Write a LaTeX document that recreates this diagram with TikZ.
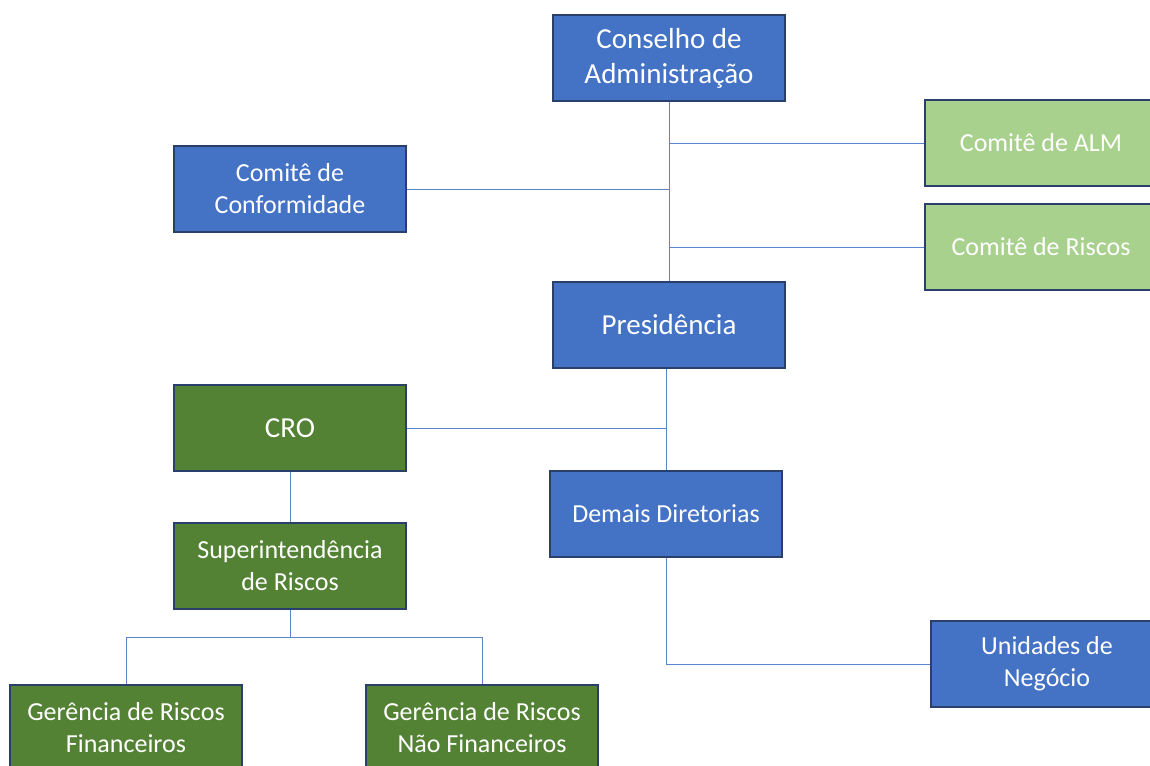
\documentclass[tikz,border=0pt]{standalone}
\usepackage{fontspec}
\setmainfont{Carlito}
\usetikzlibrary{positioning}
\definecolor{azul}{HTML}{4472C4}
\definecolor{borda}{HTML}{2B3F6B}
\definecolor{verdeclaro}{HTML}{A9D18E}
\definecolor{verdeescuro}{HTML}{548235}
\definecolor{linha}{HTML}{5B84CC}

\begin{document}
\begin{tikzpicture}[x=1pt, y=-1pt,
    caixa/.style={draw=borda, line width=1.5pt, minimum width=232pt, minimum height=86pt,
        inner sep=0pt, align=center, text=white},
    grande/.style={font=\fontsize{29}{35}\selectfont},
    pequeno/.style={font=\fontsize{26}{32}\selectfont},
    azulbox/.style={caixa, fill=azul},
    verdebox/.style={caixa, fill=verdeescuro},
    claro/.style={caixa, fill=verdeclaro},
    liga/.style={draw=linha, line width=1pt}]
    \useasboundingbox (0,0) rectangle (1150,765);
    \clip (0,0) rectangle (1150,765);
    \node[azulbox,grande] (conselho) at (669,58) {Conselho de\\Administração};
    \node[claro,pequeno] (alm) at (1041,143) {Comitê de ALM};
    \node[claro,pequeno] (riscos) at (1041,247) {Comitê de Riscos};
    \node[azulbox,pequeno] (conform) at (290,189) {Comitê de\\Conformidade};
    \node[azulbox,grande] (presid) at (669,325) {Presidência};
    \node[verdebox,grande] (cro) at (290,428) {CRO};
    \node[azulbox,pequeno] (demais) at (666,514) {Demais Diretorias};
    \node[verdebox,pequeno] (super) at (290,566) {Superintendência\\de Riscos};
    \node[verdebox,pequeno] (gfin) at (126,728) {Gerência de Riscos\\Financeiros};
    \node[verdebox,pequeno] (gnf) at (482,728) {Gerência de Riscos\\Não Financeiros};
    \node[azulbox,pequeno] (unid) at (1047,664) {Unidades de\\Negócio};
    % ligações
    \draw[liga] (conselho.south) -- (presid.north);
    \draw[liga] (alm.west) -- (alm.west -| conselho.south);
    \draw[liga] (conform.east) -- (conform.east -| conselho.south);
    \draw[liga] (riscos.west) -- (riscos.west -| conselho.south);
    \draw[liga] (demais.north |- presid.south) -- (demais.north);
    \draw[liga] (cro.east) -- (cro.east -| demais.north);
    \draw[liga] (cro) -- (super);
    \coordinate[below=28pt of super.south] (barra);
    \draw[liga] (super.south) -- (barra);
    \draw[liga] (gfin.north) |- (barra) -| (gnf.north);
    \draw[liga] (demais.south) |- (unid.west);
\end{tikzpicture}
\end{document}
